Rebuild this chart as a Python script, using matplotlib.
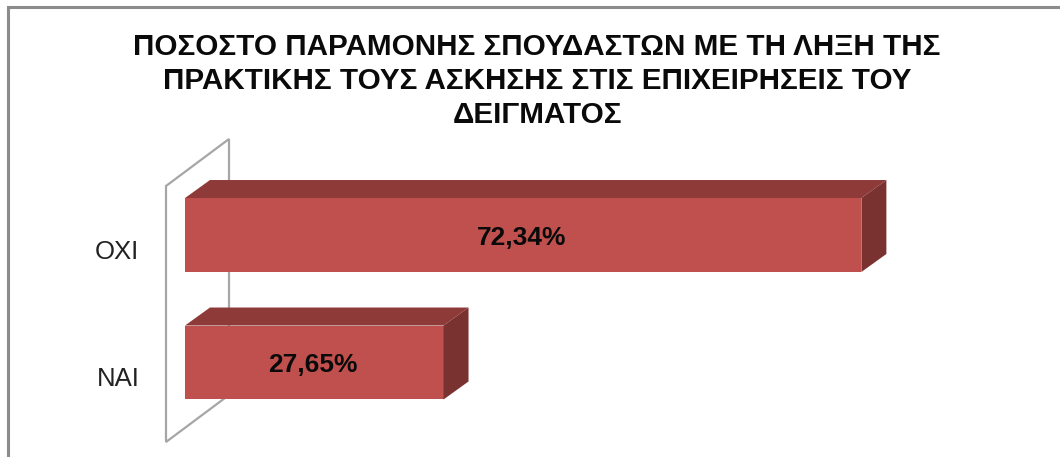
import matplotlib
matplotlib.use("Agg")
import matplotlib.pyplot as plt
from matplotlib.patches import Polygon

plt.rcParams["font.family"] = ["Liberation Sans", "DejaVu Sans"]

categories = ["ΝΑΙ", "ΟΧΙ"]
values = [27.65, 72.34]
labels = ["27,65%", "72,34%"]
title = ("ΠΟΣΟΣΤΟ ΠΑΡΑΜΟΝΗΣ ΣΠΟΥΔΑΣΤΩΝ ΜΕ ΤΗ ΛΗΞΗ ΤΗΣ\n"
         "ΠΡΑΚΤΙΚΗΣ ΤΟΥΣ ΑΣΚΗΣΗΣ ΣΤΙΣ ΕΠΙΧΕΙΡΗΣΕΙΣ ΤΟΥ\n"
         "ΔΕΙΓΜΑΤΟΣ")

W, H = 1060, 457
fig = plt.figure(figsize=(W / 100, H / 100), dpi=100, facecolor="white")

# full figure overlay in pixels, for frame and the back wall
bg = fig.add_axes([0, 0, 1, 1])
bg.set_xlim(0, W)
bg.set_ylim(H, 0)
bg.axis("off")
bg.plot([8, 8, W], [H, 7, 7], color="#8c8c8c", lw=2.2, solid_joinstyle="miter")
bg.add_patch(Polygon([(166, 186), (229, 139), (229, 395), (166, 442)], closed=True,
                     fc="white", ec="#a6a6a6", lw=1.6))
bg.text(537, 81, title, ha="center", va="center", fontsize=21.3, fontweight="bold",
        color="#0a0a0a", linespacing=1.29)

# bars axes: x 0 sits on the front left edge of the bars
px_per_unit = 9.35
top_px, bot_px = 171.25, 426.25
left_px = 185
ax = fig.add_axes([left_px / W, 1 - bot_px / H, 80 * px_per_unit / W, (bot_px - top_px) / H])
ax.patch.set_alpha(0)
ax.set_xlim(0, 80)
ax.set_ylim(-0.5, 1.5)
for s in ax.spines.values():
    s.set_visible(False)
ax.set_xticks([])
ax.set_yticks([])

bar_h = 0.58
dx = 25 / px_per_unit
dy = 18 / 127.5
ax.barh(range(len(values)), values, height=bar_h, color="#c0504d", linewidth=0, zorder=3)
for i, v in enumerate(values):
    t = i + bar_h / 2
    b = i - bar_h / 2
    ax.add_patch(Polygon([(0, t), (dx, t + dy), (v + dx, t + dy), (v, t)], closed=True,
                         fc="#8e3a38", ec="none", zorder=3, clip_on=False))
    ax.add_patch(Polygon([(v, t), (v + dx, t + dy), (v + dx, b + dy), (v, b)], closed=True,
                         fc="#7a3230", ec="none", zorder=3, clip_on=False))
    ax.text(v / 2 - 0.15, i - 0.02, labels[i], ha="center", va="center", fontsize=19, fontweight="bold",
            color="#0a0a0a", zorder=4)
    # category labels sit lower than the bars, on the front plane of the wall
    ax.text(-45.5 / px_per_unit, i - 0.13, categories[i], ha="right", va="center", fontsize=18.5,
            color="#222222", clip_on=False)

fig.savefig("out.png", dpi=100, facecolor="white")
